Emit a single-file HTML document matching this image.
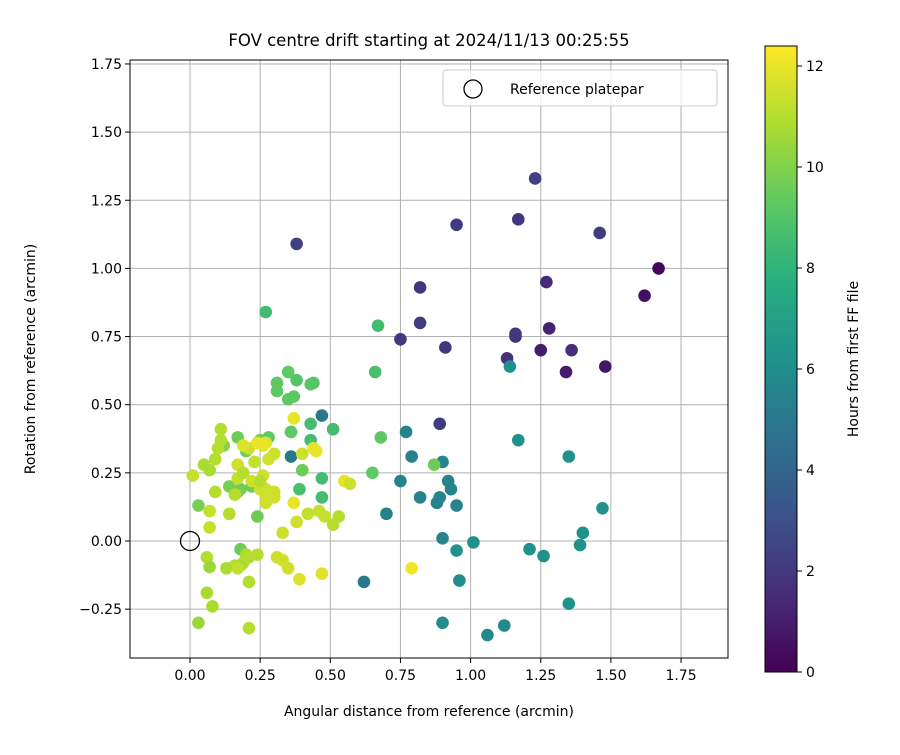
<!DOCTYPE html>
<html><head><meta charset="utf-8"><style>
body{margin:0;background:#fff;font-family:"Liberation Sans","DejaVu Sans",sans-serif}
svg text{font-family:"DejaVu Sans","Liberation Sans",sans-serif;fill:#000}
</style></head><body>
<svg id="chart" width="900" height="750" xmlns="http://www.w3.org/2000/svg">
<defs><linearGradient id="vir" x1="0" y1="1" x2="0" y2="0">
<stop offset="0" stop-color="#440154"/><stop offset="0.125" stop-color="#472d7b"/><stop offset="0.25" stop-color="#3b528b"/><stop offset="0.375" stop-color="#2c728e"/><stop offset="0.5" stop-color="#21918c"/><stop offset="0.625" stop-color="#28ae80"/><stop offset="0.75" stop-color="#5ec962"/><stop offset="0.875" stop-color="#addc30"/><stop offset="1" stop-color="#fde725"/></linearGradient>
<clipPath id="pc"><rect x="130" y="60" width="598" height="598"/></clipPath></defs>
<g id="grid"></g>
<g id="pts" clip-path="url(#pc)"></g>
<rect x="130" y="60" width="598" height="598" fill="none" stroke="#000" stroke-width="1"/>
<g id="axes"></g>
<text x="429" y="46" font-size="16.5" text-anchor="middle">FOV centre drift starting at 2024/11/13 00:25:55</text>
<text x="429" y="716" font-size="14" text-anchor="middle">Angular distance from reference (arcmin)</text>
<text transform="translate(35,359) rotate(-90)" font-size="14" text-anchor="middle">Rotation from reference (arcmin)</text>
<g>
<rect x="443" y="70" width="274" height="36" rx="3" fill="#fff" fill-opacity="0.8" stroke="#ccc"/>
<circle cx="473" cy="89" r="9" fill="none" stroke="#000" stroke-width="1.3"/>
<text x="510" y="94" font-size="14">Reference platepar</text>
</g>
<rect x="765" y="46" width="32" height="626" fill="url(#vir)" stroke="#000" stroke-width="1"/>
<g id="cbar"></g>
<text transform="translate(858,359) rotate(-90)" font-size="14" text-anchor="middle">Hours from first FF file</text>
</svg>
<script>
const xs=[1.67,1.62,1.23,0.95,1.17,1.46,0.38,1.27,0.82,0.82,0.75,0.91,1.13,1.16,1.16,1.28,1.25,1.36,1.34,1.48,0.89,
1.14,1.17,1.35,1.47,1.40,1.39,1.26,1.21,1.01,0.95,0.96,1.35,1.12,1.06,0.90,0.62,0.77,0.79,0.75,0.82,0.90,0.92,0.93,0.89,0.88,0.95,0.90,0.70,0.47,0.36,
0.27,0.67,0.66,0.68,0.65,0.87,0.51,0.43,0.47,0.47,0.43,0.39,0.38,0.44,0.43,0.31,0.31,0.35,0.37,0.35,0.36,0.36,0.40,0.28,0.25,0.17,0.20,0.18,0.22,0.24,0.18,0.12,0.03,0.14,0.17,
0.01,0.05,0.07,0.09,0.11,0.11,0.10,0.09,0.07,0.07,0.14,0.16,0.17,0.17,0.19,0.21,0.19,0.23,0.22,0.25,0.27,0.27,0.26,0.30,0.27,0.24,0.26,0.28,0.30,0.37,0.40,0.45,0.44,0.37,0.33,0.38,0.42,0.46,0.48,0.51,0.53,0.55,0.57,0.30,0.27,0.25,
0.06,0.07,0.06,0.08,0.03,0.21,0.20,0.19,0.16,0.13,0.18,0.21,0.24,0.21,0.31,0.33,0.35,0.39,0.47,0.79,0.17];
const ys=[1.00,0.90,1.33,1.16,1.18,1.13,1.09,0.95,0.93,0.80,0.74,0.71,0.67,0.75,0.76,0.78,0.70,0.70,0.62,0.64,0.43,
0.64,0.37,0.31,0.12,0.03,-0.015,-0.055,-0.03,-0.005,-0.035,-0.145,-0.23,-0.31,-0.345,-0.30,-0.15,0.40,0.31,0.22,0.16,0.29,0.22,0.19,0.16,0.14,0.13,0.01,0.10,0.46,0.31,
0.84,0.79,0.62,0.38,0.25,0.28,0.41,0.43,0.23,0.16,0.37,0.19,0.59,0.58,0.575,0.58,0.55,0.62,0.53,0.52,0.40,0.40,0.26,0.38,0.37,0.38,0.33,0.19,0.20,0.09,-0.03,0.35,0.13,0.20,0.18,
0.24,0.28,0.26,0.30,0.41,0.37,0.34,0.18,0.11,0.05,0.10,0.17,0.23,0.28,0.25,0.34,0.35,0.29,0.22,0.19,0.14,0.17,0.24,0.16,0.36,0.36,0.35,0.30,0.32,0.45,0.32,0.33,0.34,0.14,0.03,0.07,0.10,0.11,0.09,0.06,0.09,0.22,0.21,0.18,0.19,0.22,
-0.06,-0.095,-0.19,-0.24,-0.30,-0.32,-0.05,-0.08,-0.09,-0.10,-0.09,-0.06,-0.05,-0.15,-0.06,-0.07,-0.10,-0.14,-0.12,-0.10,-0.10];
const hours=[0.2,0.5,2.3,2.2,2.0,2.2,2.4,1.5,2.0,2.2,2.0,2.0,1.8,1.8,2.0,1.2,1.0,1.6,1.0,0.8,2.2,
6.3,6.2,6.3,6.3,6.2,6.2,6.2,6.3,6.3,6.2,6.0,6.3,5.8,5.8,6.0,5.0,5.5,5.5,5.5,5.5,5.5,5.5,5.5,5.5,5.5,5.5,5.5,5.5,5.0,5.0,
8.5,8.5,8.7,9.3,9.3,9.6,8.6,8.6,8.6,8.6,8.6,8.7,9.0,9.1,9.1,9.3,9.3,9.3,9.3,9.3,9.3,9.3,9.6,9.3,9.6,9.6,9.6,9.6,9.6,9.6,9.6,10.0,9.8,9.8,9.8,
11.3,10.8,10.8,11,11,11,11,11,11.3,11.3,11,11,11.3,11.5,11,11.5,11.8,11.3,11.5,11.5,11.5,11.5,11.5,11.5,11.8,12,12,11.5,11.5,12,11.5,12,12,12,11.5,11.5,11.3,11.3,11.3,11,11,12,11.5,11.5,11.5,11,
11,10.5,10.8,10.8,10.5,11,10.8,11,11,10.8,10.8,11,11,11,11.5,11.5,11.5,11.8,11.8,12.2,11.2];
const xTicks=[0,0.25,0.5,0.75,1.0,1.25,1.5,1.75];
const yTicks=[-0.25,0,0.25,0.5,0.75,1.0,1.25,1.5,1.75];
const cTicks=[0,2,4,6,8,10,12];
const NS="http://www.w3.org/2000/svg";
const X=v=>190+v*280.6, Y=v=>541-v*272.6, C=v=>672-v*50.5;
const vir=["#440154","#472d7b","#3b528b","#2c728e","#21918c","#28ae80","#5ec962","#addc30","#fde725"];
function col(h){let t=Math.max(0,Math.min(1,h/12.4))*8,i=Math.min(7,Math.floor(t)),f=t-i;
const a=vir[i],b=vir[i+1],p=k=>parseInt(a.substr(k,2),16)*(1-f)+parseInt(b.substr(k,2),16)*f;
return `rgb(${p(1)|0},${p(3)|0},${p(5)|0})`;}
function mk(tag,at,par){const e=document.createElementNS(NS,tag);for(const k in at)e.setAttribute(k,at[k]);par.appendChild(e);return e;}
const g=document.getElementById('grid'),ax=document.getElementById('axes'),pts=document.getElementById('pts'),cb=document.getElementById('cbar');
xTicks.forEach(v=>{const x=X(v);
const l=mk('line',{x1:x,x2:x,y1:60,y2:658,stroke:'#b0b0b0','stroke-width':1},g);


mk('line',{x1:x,x2:x,y1:658,y2:663,stroke:'#000'},ax);
const t=mk('text',{x:x,y:680,'font-size':14,'text-anchor':'middle'},ax);t.textContent=v.toFixed(2);

});
yTicks.forEach(v=>{const y=Y(v);
const l=mk('line',{x1:130,x2:728,y1:y,y2:y,stroke:'#b0b0b0','stroke-width':1},g);


mk('line',{x1:125,x2:130,y1:y,y2:y,stroke:'#000'},ax);
const t=mk('text',{x:122,y:y+5,'font-size':14,'text-anchor':'end'},ax);t.textContent=(v<0?'\u2212':'')+Math.abs(v).toFixed(2);

});
cTicks.forEach(v=>{const y=C(v);
mk('line',{x1:797,x2:802,y1:y,y2:y,stroke:'#000'},cb);
const t=mk('text',{x:806,y:y+5,'font-size':14},cb);t.textContent=v;

});
xs.forEach((v,i)=>{const c=mk('circle',{cx:X(v),cy:Y(ys[i]),r:6.3,fill:col(hours[i])},pts);

});
const ref=mk('circle',{cx:X(0),cy:Y(0),r:9.5,fill:'none',stroke:'#000','stroke-width':1.3},pts);


</script>
</body></html>
